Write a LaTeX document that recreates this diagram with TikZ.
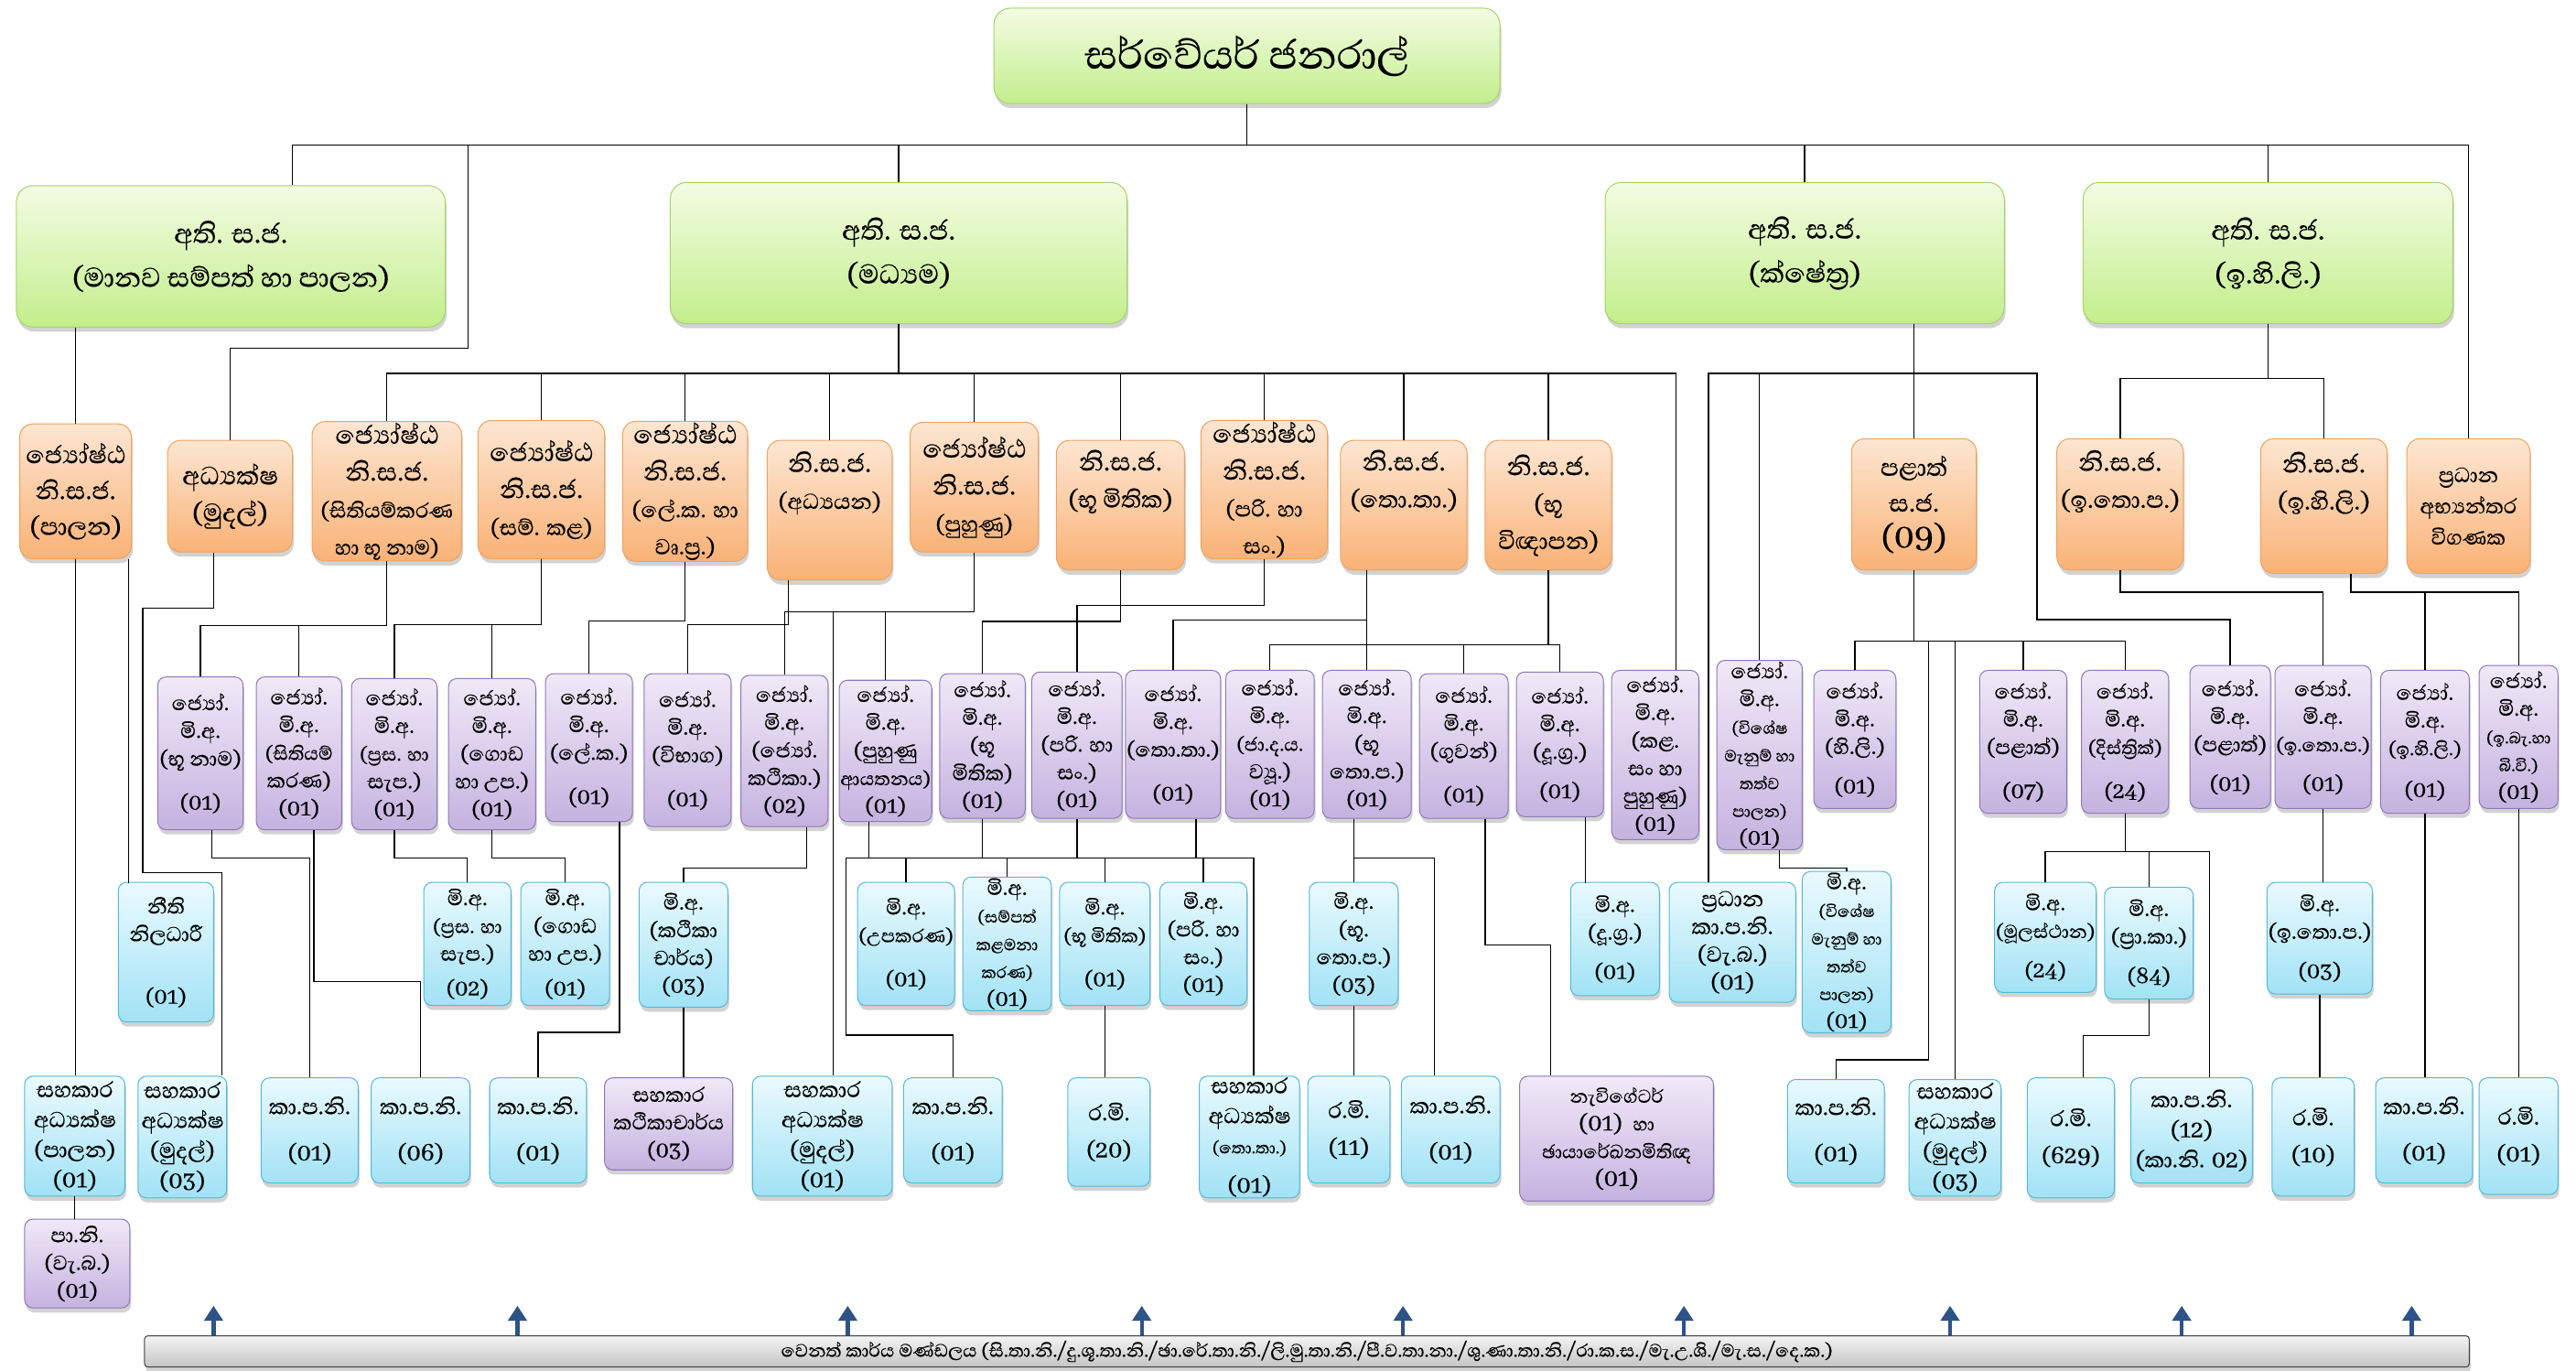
\documentclass[tikz,border=0pt]{standalone}
\usepackage{fontspec}
\setmainfont{Abhaya Libre}[Script=Sinhala, FakeBold=0.4]
\usetikzlibrary{arrows.meta, shadows}

\definecolor{grtop}{HTML}{F3FCE3}
\definecolor{grbot}{HTML}{C3EE8C}
\definecolor{grline}{HTML}{A6D469}
\definecolor{ortop}{HTML}{FDE6D2}
\definecolor{orbot}{HTML}{F9B276}
\definecolor{orline}{HTML}{F0A35E}
\definecolor{putop}{HTML}{F0E9F7}
\definecolor{pubot}{HTML}{C5B2E0}
\definecolor{puline}{HTML}{8E78B8}
\definecolor{cytop}{HTML}{EAFAFE}
\definecolor{cybot}{HTML}{A1E2F5}
\definecolor{cyline}{HTML}{55B9D6}
\definecolor{bartop}{HTML}{F4F4F4}
\definecolor{barbot}{HTML}{C4C4C4}
\definecolor{arrblue}{HTML}{2E5387}

\newcommand\fsub{\fontsize{18}{19}\selectfont}
\newcommand\flow{\fontsize{22.5}{24}\selectfont}
\newcommand\fmidl{\fontsize{20.5}{24}\selectfont}
\newcommand\fsubo{\fontsize{24}{26}\selectfont}
\newcommand\fsubs{\fontsize{23}{24}\selectfont}
\newcommand\fsubl{\fontsize{26}{29}\selectfont}
\newcommand\fnum{\fontsize{24}{26}\selectfont}
\newcommand\fbig{\fontsize{34}{38}\selectfont}

\tikzset{
  sz/.style 2 args={minimum width=#1*0.5mm, minimum height=#2*0.5mm},
  box/.style={rounded corners=2.5mm, align=center, inner sep=1pt, line width=0.8pt,
    drop shadow={shadow xshift=0.4mm, shadow yshift=-1.4mm, opacity=0.35}},
  titlebox/.style={box, rounded corners=5mm, draw=grline, top color=grtop, bottom color=grbot, font=\fontsize{44}{50}\selectfont},
  greenbox/.style={box, rounded corners=5mm, draw=grline, top color=grtop, bottom color=grbot, font=\fontsize{30}{38}\selectfont},
  orangebox/.style={box, rounded corners=4mm, draw=orline, top color=ortop, bottom color=orbot, font=\fontsize{28}{32}\selectfont},
  purplebox/.style={box, draw=puline, top color=putop, bottom color=pubot, font=\flow},
  cyanbox/.style={box, draw=cyline, top color=cytop, bottom color=cybot, font=\flow},
  lowbox/.style={cyanbox, font=\fnum},
  barbox/.style={box, inner sep=0pt, rounded corners=1mm, draw=black!75, top color=bartop, bottom color=barbot, font=\fontsize{20}{22}\selectfont},
  uparr/.style={line width=3.4pt, draw=arrblue, -{Triangle[length=13pt, width=16pt]}},
}

\begin{document}
\begin{tikzpicture}[x=0.5mm, y=-0.5mm, line width=1.1pt]
\useasboundingbox (0,0) rectangle (1568,834);
\fill[white] (0,0) rectangle (1568,834);

% Title
\node[titlebox, sz={308}{58}] (t) at (759,34) {සර්වේයර් ජනරාල්};

% Level 2
\node[greenbox, sz={261}{86}] (g1) at (140.5,156) {අති. ස.ජ.\\(මානව සම්පත් හා පාලන)};
\node[greenbox, sz={278}{86}] (g2) at (547,154) {අති. ස.ජ.\\(මධ්^^^^200dයම)};
\node[greenbox, sz={243}{86}] (g3) at (1098.5,154) {අති. ස.ජ.\\(ක්ෂේත්^^^^200dර)};
\node[greenbox, sz={225}{86}] (g4) at (1380.5,154) {අති. ස.ජ.\\(ඉ.හි.ලි.)};

% Level 3
\node[orangebox, sz={68}{82}, font=\fontsize{27}{31}\selectfont] (o1) at (46,299) {ජ්^^^^200dයෝෂ්ඨ\\නි.ස.ජ.\\(පාලන)};
\node[orangebox, sz={76}{68}] (o2) at (140,302) {අධ්^^^^200dයක්ෂ\\(මුදල්)};
\node[orangebox, sz={91}{84}] (o3) at (235.5,299) {ජ්^^^^200dයෝෂ්ඨ\\නි.ස.ජ.\\\fsubs(සිතියම්කරණ\\\fsubs හා භූ නාම)};
\node[orangebox, sz={77}{84}] (o4) at (329.5,298) {ජ්^^^^200dයෝෂ්ඨ\\නි.ස.ජ.\\\fsubo(සම්. කළ)};
\node[orangebox, sz={76}{84}] (o5) at (417,299) {ජ්^^^^200dයෝෂ්ඨ\\නි.ස.ජ.\\\fsubo(ලේ.ක. හා\\\fsubo වෘ.ප්^^^^200dර.)};
\node[orangebox, sz={76}{85}] (o6) at (505,310.5) {නි.ස.ජ.\\\fsubo(අධ්^^^^200dයයන)\\[20pt]~};
\node[orangebox, sz={78}{79}] (o7) at (593,296.5) {ජ්^^^^200dයෝෂ්ඨ\\නි.ස.ජ.\\\fsubo(පුහුණු)};
\node[orangebox, sz={78}{79}] (o8) at (682,307.5) {නි.ස.ජ.\\\fsubl(භූ මිතික)\\[14pt]~};
\node[orangebox, sz={77}{80}] (o9) at (769.5,298) {ජ්^^^^200dයෝෂ්ඨ\\නි.ස.ජ.\\\fsubo(පරි. හා\\\fsubo සං.)};
\node[orangebox, sz={77}{79}] (o10) at (854.5,307.5) {නි.ස.ජ.\\\fsubl(තො.තා.)\\[14pt]~};
\node[orangebox, sz={77}{79}] (o11) at (942.5,307.5) {නි.ස.ජ.\\\fsubl(භූ\\\fsubl විඥාපන)};
\node[orangebox, sz={76}{80}, font=\fontsize{27}{31}\selectfont] (o12) at (1165,307) {පළාත්\\ස.ජ.\\\fbig(09)};
\node[orangebox, sz={77}{80}] (o13) at (1290.5,307) {නි.ස.ජ.\\\fsubl(ඉ.තො.ප.)\\[12pt]~};
\node[orangebox, sz={77}{82}] (o14) at (1414.5,308) {නි.ස.ජ.\\\fsubl(ඉ.හි.ලි.)\\[12pt]~};
\node[orangebox, sz={75}{82}, font=\fontsize{23}{27}\selectfont] (o15) at (1502.5,308) {ප්^^^^200dරධාන\\අභ්^^^^200dයන්තර\\විගණක};

% Level 4
\node[purplebox, sz={52}{93}] (p1) at (122,458.5) {ජ්^^^^200dයෝ.\\මි.අ.\\(භූ නාම)\\[14pt](01)};
\node[purplebox, sz={52}{93}] (p2) at (182,458.5) {ජ්^^^^200dයෝ.\\මි.අ.\\\fmidl(සිතියම්\\කරණ)\\(01)};
\node[purplebox, sz={52}{92}] (p3) at (240,459) {ජ්^^^^200dයෝ.\\මි.අ.\\\fmidl(ප්^^^^200dරස. හා\\සැප.)\\(01)};
\node[purplebox, sz={53}{92}] (p4) at (299.5,459) {ජ්^^^^200dයෝ.\\මි.අ.\\(ගොඩ\\හා උප.)\\(01)};
\node[purplebox, sz={53}{90}] (p5) at (358.5,455) {ජ්^^^^200dයෝ.\\මි.අ.\\(ලේ.ක.)\\[14pt](01)};
\node[purplebox, sz={53}{93}] (p6) at (418.5,456.5) {ජ්^^^^200dයෝ.\\මි.අ.\\(විභාග)\\[14pt](01)};
\node[purplebox, sz={53}{92}] (p7) at (477.5,457) {ජ්^^^^200dයෝ.\\මි.අ.\\(ජ්^^^^200dයෝ.\\කථිකා.)\\(02)};
\node[purplebox, sz={54}{86}] (p8) at (539,457) {ජ්^^^^200dයෝ.\\මි.අ.\\(පුහුණු\\\fmidl ආයතනය)\\(01)};
\node[purplebox, sz={52}{88}] (p9) at (598,454) {ජ්^^^^200dයෝ.\\මි.අ.\\(භූ\\මිතික)\\(01)};
\node[purplebox, sz={55}{89}] (p10) at (655.5,453.5) {ජ්^^^^200dයෝ.\\මි.අ.\\(පරි. හා\\සං.)\\(01)};
\node[purplebox, sz={54}{90}] (p11) at (714,453) {ජ්^^^^200dයෝ.\\මි.අ.\\(තො.තා.)\\[14pt](01)};
\node[purplebox, sz={54}{90}] (p12) at (773,453) {ජ්^^^^200dයෝ.\\මි.අ.\\\fmidl(ජා.ද.ය.\\ව්^^^^200dයූ.)\\(01)};
\node[purplebox, sz={54}{90}] (p13) at (832,453) {ජ්^^^^200dයෝ.\\මි.අ.\\(භූ\\තො.ප.)\\(01)};
\node[purplebox, sz={54}{88}] (p14) at (891,454) {ජ්^^^^200dයෝ.\\මි.අ.\\(ගුවන්)\\[14pt](01)};
\node[purplebox, sz={53}{88}] (p15) at (949.5,453) {ජ්^^^^200dයෝ.\\මි.අ.\\(දූ.ග්^^^^200dර.)\\[10pt](01)};
\node[purplebox, sz={53}{103}] (p16) at (1007.5,459.5) {ජ්^^^^200dයෝ.\\මි.අ.\\(කළ.\\සං හා\\පුහුණු)\\(01)};
\node[purplebox, sz={52}{103}] (p17) at (1071,459.5) {ජ්^^^^200dයෝ.\\මි.අ.\\\fsub(විශේෂ\\\fsub මැනුම් හා\\\fsub තත්ව\\\fsub පාලන)\\(01)};
\node[purplebox, sz={50}{84}] (p18) at (1129,450) {ජ්^^^^200dයෝ.\\මි.අ.\\(හි.ලි.)\\[10pt](01)};
\node[purplebox, sz={53}{87}] (p19) at (1231.5,451.5) {ජ්^^^^200dයෝ.\\මි.අ.\\(පළාත්)\\[14pt](07)};
\node[purplebox, sz={53}{87}] (p20) at (1293.5,451.5) {ජ්^^^^200dයෝ.\\මි.අ.\\\fmidl(දිස්ත්^^^^200dරික්)\\[14pt](24)};
\node[purplebox, sz={49}{87}] (p21) at (1357.5,448.5) {ජ්^^^^200dයෝ.\\මි.අ.\\(පළාත්)\\[10pt](01)};
\node[purplebox, sz={54}{87}] (p22) at (1414,448.5) {ජ්^^^^200dයෝ.\\මි.අ.\\\fmidl(ඉ.තො.ප.)\\[10pt](01)};
\node[purplebox, sz={54}{87}] (p23) at (1476,451.5) {ජ්^^^^200dයෝ.\\මි.අ.\\\fmidl(ඉ.හි.ලි.)\\[12pt](01)};
\node[purplebox, sz={48}{87}] (p24) at (1533,448.5) {ජ්^^^^200dයෝ.\\මි.අ.\\\fsub(ඉ.බැ.හා\\\fsub බි.වි.)\\(01)};

% Level 5
\node[cyanbox, sz={58}{85}] (c1) at (101,579.5) {නීති\\නිලධාරී\\[30pt](01)};
\node[cyanbox, sz={53}{75}] (c2) at (284.5,574.5) {මි.අ.\\\fmidl(ප්^^^^200dරස. හා\\සැප.)\\[6pt](02)};
\node[cyanbox, sz={54}{75}] (c3) at (344,574.5) {මි.අ.\\(ගොඩ\\හා උප.)\\[6pt](01)};
\node[cyanbox, sz={54}{76}] (c4) at (416,575) {මි.අ.\\(කථිකා\\චාර්ය)\\(03)};
\node[cyanbox, sz={59}{75}] (c5) at (551.5,574.5) {මි.අ.\\\fmidl(උපකරණ)\\[14pt](01)};
\node[cyanbox, sz={54}{75}] (c6) at (613,574.5) {මි.අ.\\\fsub(සම්පත්\\\fsub කළමනා\\\fsub කරණ)\\(01)};
\node[cyanbox, sz={55}{75}] (c7) at (672.5,574.5) {මි.අ.\\\fmidl(භූ මිතික)\\[14pt](01)};
\node[cyanbox, sz={53}{75}] (c8) at (732.5,574.5) {මි.අ.\\(පරි. හා\\සං.)\\(01)};
\node[cyanbox, sz={54}{75}] (c9) at (824,574.5) {මි.අ.\\(භූ.\\තො.ප.)\\(03)};
\node[cyanbox, sz={54}{69}] (c10) at (983,571.5) {මි.අ.\\(දූ.ග්^^^^200dර.)\\[10pt](01)};
\node[cyanbox, sz={77}{73}, font=\fontsize{24}{24}\selectfont] (c11) at (1054.5,573.5) {ප්^^^^200dරධාන\\කා.ප.නි.\\(වැ.බ.)\\(01)};
\node[cyanbox, sz={54}{85}] (c12) at (1124,579.5) {මි.අ.\\\fsub(විශේෂ\\\fsub මැනුම් හා\\\fsub තත්ව\\\fsub පාලන)\\(01)};
\node[cyanbox, sz={60}{67}] (c13) at (1245,570.5) {මි.අ.\\\fmidl(මූලස්ථාන)\\[10pt](24)};
\node[cyanbox, sz={54}{68}] (c14) at (1308,574) {මි.අ.\\(ප්^^^^200dරා.කා.)\\[10pt](84)};
\node[cyanbox, sz={60}{68}] (c15) at (1412,571) {මි.අ.\\(ඉ.තො.ප.)\\[10pt](03)};

% Level 6
\node[lowbox, sz={61}{73}] (b1) at (45.5,691.5) {සහකාර\\අධ්^^^^200dයක්ෂ\\(පාලන)\\(01)};
\node[lowbox, sz={54}{74}] (b2) at (111,692) {සහකාර\\අධ්^^^^200dයක්ෂ\\(මුදල්)\\(03)};
\node[lowbox, sz={59}{64}] (b3) at (188.5,688) {කා.ප.නි.\\[14pt](01)};
\node[lowbox, sz={60}{64}] (b4) at (256,688) {කා.ප.නි.\\[14pt](06)};
\node[lowbox, sz={59}{64}] (b5) at (327.5,688) {කා.ප.නි.\\[14pt](01)};
\node[purplebox, sz={78}{56}] (b6) at (407,684) {සහකාර\\කථිකාචාර්ය\\(03)};
\node[lowbox, sz={85}{73}] (b7) at (500.5,691.5) {සහකාර\\අධ්^^^^200dයක්ෂ\\(මුදල්)\\(01)};
\node[lowbox, sz={60}{64}] (b8) at (580,688) {කා.ප.නි.\\[14pt](01)};
\node[lowbox, sz={50}{66}] (b9) at (675,689) {ර.මි.\\[6pt](20)};
\node[lowbox, sz={61}{74}] (b10) at (760.5,692) {සහකාර\\අධ්^^^^200dයක්ෂ\\\fsub(තො.තා.)\\[8pt](01)};
\node[lowbox, sz={50}{65}] (b11) at (821,687.5) {ර.මි.\\[6pt](11)};
\node[lowbox, sz={60}{65}] (b12) at (883,687.5) {කා.ප.නි.\\[14pt](01)};
\node[purplebox, sz={118}{76}, font=\fmidl] (b13) at (984,693) {නැවිගේටර්\\\fnum(01)~~\fmidl හා\\ඡායාරේඛනමිතිඥ\\\fnum(01)};
\node[lowbox, sz={59}{63}] (b14) at (1117.5,688.5) {කා.ප.නි.\\[14pt](01)};
\node[lowbox, sz={56}{71}] (b15) at (1190,692.5) {සහකාර\\අධ්^^^^200dයක්ෂ\\(මුදල්)\\(03)};
\node[lowbox, sz={53}{73}] (b16) at (1260.5,692.5) {ර.මි.\\[6pt](629)};
\node[lowbox, sz={74}{64}] (b17) at (1334,688) {කා.ප.නි.\\(12)\\(කා.නි. 02)};
\node[lowbox, sz={50}{72}] (b18) at (1408,692) {ර.මි.\\[6pt](10)};
\node[lowbox, sz={59}{64}] (b19) at (1475.5,688) {කා.ප.නි.\\[14pt](01)};
\node[lowbox, sz={48}{71}] (b20) at (1533,691.5) {ර.මි.\\[6pt](01)};
\node[purplebox, sz={64}{54}] (b21) at (47,769) {පා.නි.\\(වැ.බ.)\\(01)};

% Other staff bar
\node[barbox, sz={1415}{19}] (bar) at (795.5,822.5) {වෙනත් කාර්ය මණ්ඩලය (සි.තා.නි./දු.ශූ.තා.නි./ඡා.රේ.තා.නි./ලි.මු.තා.නි./පී.ව.තා.නා./ශු.ණා.තා.නි./රා.ක.ස./මැ.උ.ශි./මැ.ස./දෙ.ක.)};

% Corners
\coordinate (mudal) at (285,212);
\coordinate (prov) at (1240,377);
\coordinate (pk) at (1174,645);
\coordinate (kpn) at (515,630);

% Level 1 links
\draw (t.south) -- ++(0,25) -| ([xshift=18.75mm]g1.north);
\draw (t.south) -- ++(0,25) -| (mudal) -| (o2.north);
\draw (t.south) -- ++(0,25) -| (g2.north);
\draw (t.south) -- ++(0,25) -| (g3.north);
\draw (t.south) -- ++(0,25) -| (g4.north);
\draw (t.south) -- ++(0,25) -| (o15.north);

% Level 2 links
\draw (g1.south -| o1.north) -- (o1.north);
\draw (g2.south) -- ++(0,30) -| (o3.north);
\draw (g2.south) -- ++(0,30) -| (o4.north);
\draw (g2.south) -- ++(0,30) -| (o5.north);
\draw (g2.south) -- ++(0,30) -| (o6.north);
\draw (g2.south) -- ++(0,30) -| (o7.north);
\draw (g2.south) -- ++(0,30) -| (o8.north);
\draw (g2.south) -- ++(0,30) -| (o9.north);
\draw (g2.south) -- ++(0,30) -| (o10.north);
\draw (g2.south) -- ++(0,30) -| (o11.north);
\draw (g2.south) -- ++(0,30) -| ([xshift=6.25mm]p16.north);
\draw (g3.south -| o12.north) -- (o12.north);
\draw (g3.south -| o12.north) -- ++(0,30) -| ([xshift=-7.25mm]c11.north);
\draw (g3.south -| o12.north) -- ++(0,30) -| (p17.north);
\draw (g3.south -| o12.north) -- ++(0,30) -| (prov) -| (p21.north);
\draw (g4.south) -- ++(0,33) -| (o13.north);
\draw (g4.south) -- ++(0,33) -| (o14.north);

% Level 3 links
\draw (o1.south) -- (o1.south |- b1.north);
\draw ([xshift=-1mm]o1.south east) -- ++(0,197);
\draw ([xshift=-5mm]o2.south) -- ++(0,34) -| ++(-43,161) -| ([xshift=12mm]b2.north);
\draw (o3.south) -- ++(0,39) -| (p1.north);
\draw (o3.south) -- ++(0,39) -| (p2.north);
\draw (o4.south) -- ++(0,40) -| (p3.north);
\draw (o4.south) -- ++(0,40) -| (p4.north);
\draw (o5.south) -- ++(0,36) -| (p5.north);
\draw ([xshift=-12.5mm]o6.south) -- ++(0,27) -| (p6.north);
\draw (o7.south) -- ++(0,36) -| (p7.north);
\draw (o7.south) -- ++(0,36) -| (p8.north);
\draw (o7.south) -- ++(0,36) -| ([xshift=3.25mm]b7.north);
\draw (o8.south) -- ++(0,31) -| (p9.north);
\draw (o9.south) -- ++(0,28) -| (p10.north);
\draw (p13.north |- o10.south) -- (p13.north);
\draw (p13.north |- o10.south) -- ++(0,30) -| (p11.north);
\draw (o11.south) -- ++(0,45) -| (p12.north);
\draw (o11.south) -- ++(0,45) -| (p14.north);
\draw (o11.south) -- ++(0,45) -| (p15.north);
\draw (o12.south) -- ++(0,43) -| (p18.north);
\draw (o12.south) -- ++(0,43) -| (p19.north);
\draw (o12.south) -- ++(0,43) -| (p20.north);
\draw (o12.south) -- ++(0,43) -| (b15.north);
\draw (o12.south) -- ++(0,43) -| (pk) -| (b14.north);
\draw (o13.south) -- ++(0,13) -| (p22.north);
\draw ([xshift=8.25mm]o14.south) -- ++(0,11) -| (p23.north);
\draw ([xshift=8.25mm]o14.south) -- ++(0,11) -| (p24.north);

% Level 4 links
\draw ([xshift=3.5mm]p1.south) -- ++(0,17) -| (b3.north);
\draw ([xshift=4.5mm]p2.south) -- ++(0,92) -| (b4.north);
\draw (p3.south) -- ++(0,17) -| (c2.north);
\draw (p4.south) -- ++(0,17) -| (c3.north);
\draw ([xshift=9.25mm]p5.south) -- ++(0,128) -| (b5.north);
\draw ([xshift=6.75mm]p7.south) -- ++(0,25) -| (c4.north);
\draw (c4.south) -- (c4.south |- b6.north);
\draw ([xshift=-5mm]p8.south) -- ++(0,22) -| (c5.north);
\draw ([xshift=-5mm]p8.south) -- ++(0,22) -| (c6.north);
\draw ([xshift=-5mm]p8.south) -- ++(0,22) -| (kpn) -| (b8.north);
\draw (p9.south) -- ++(0,24) -| (c7.north);
\draw (c7.south) -- (c7.south |- b9.north);
\draw (p10.south) -- ++(0,24) -| (c8.north);
\draw ([xshift=7mm]p11.south) -- ++(0,24) -| ([xshift=1.25mm]b10.north);
\draw (c9.north |- p13.south) -- (c9.north);
\draw (c9.north |- p13.south) -- ++(0,24) -| ([xshift=-5mm]b12.north);
\draw (c9.south) -- (c9.south |- b11.north);
\draw ([xshift=6.5mm]p14.south) -- ++(0,77) -| ([xshift=-20mm]b13.north);
\draw ([xshift=7.75mm]p15.south) -- ++(0,40);
\draw ([xshift=6mm]p17.south) -- ++(0,11) -| (c12.north);
\draw (p20.south) -- ++(0,23) -| (c13.north);
\draw (p20.south) -- ++(0,23) -| (c14.north);
\draw (p20.south) -- ++(0,23) -| ([xshift=5.5mm]b17.north);
\draw (c14.south) -- ++(0,22) -| ([xshift=3.75mm]b16.north);
\draw (p22.south) -- (p22.south |- c15.north);
\draw (c15.south) -- (c15.south |- b18.north);
\draw (p23.south) -- (p23.south |- b19.north);
\draw (p24.south) -- (p24.south |- b20.north);
\draw (b1.south) -- (b1.south |- b21.north);

% Arrows to the bar
\draw[uparr] (bar.north -| 130,0) -- ++(0,-18);
\draw[uparr] (bar.north -| 315,0) -- ++(0,-18);
\draw[uparr] (bar.north -| 516,0) -- ++(0,-18);
\draw[uparr] (bar.north -| 695,0) -- ++(0,-18);
\draw[uparr] (bar.north -| 854,0) -- ++(0,-18);
\draw[uparr] (bar.north -| 1025,0) -- ++(0,-18);
\draw[uparr] (bar.north -| 1187,0) -- ++(0,-18);
\draw[uparr] (bar.north -| 1328,0) -- ++(0,-18);
\draw[uparr] (bar.north -| 1468,0) -- ++(0,-18);

\end{tikzpicture}
\end{document}
